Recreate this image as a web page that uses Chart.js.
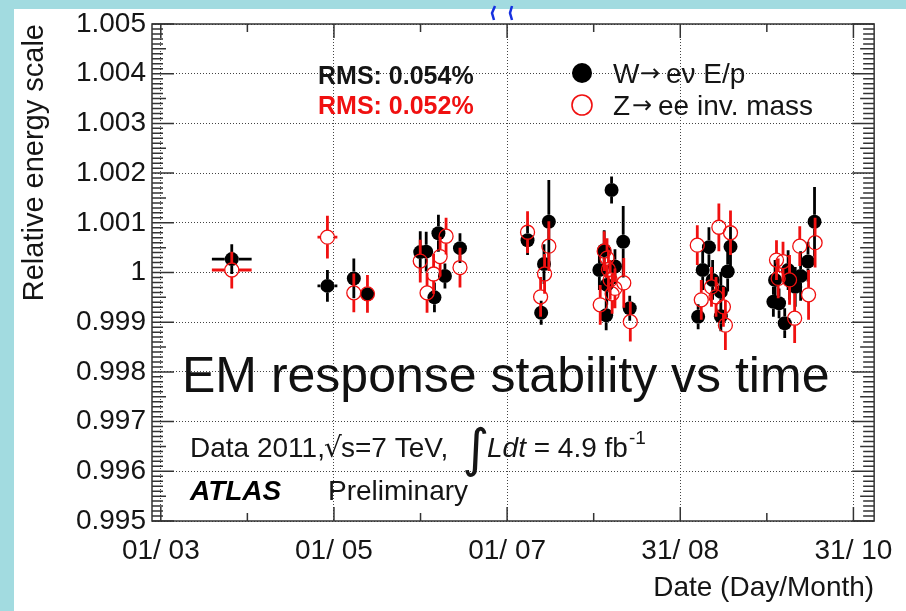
<!DOCTYPE html>
<html><head><meta charset="utf-8">
<script src="https://cdn.jsdelivr.net/npm/chart.js@4.4.1/dist/chart.umd.min.js"></script>
<style>html,body{margin:0;padding:0;background:#a2dbe0;overflow:hidden}canvas{display:block}</style>
</head><body>
<canvas id="c" width="906" height="611"></canvas>
<script>
// ---- axis ticks (day of year 2011) ----
const xTickDays   = [60, 121, 182, 243, 304];
const xTickLabels = ["01/ 03", "01/ 05", "01/ 07", "31/ 08", "31/ 10"];
const yTickValues = [0.995, 0.996, 0.997, 0.998, 0.999, 1.000, 1.001, 1.002, 1.003, 1.004, 1.005];
const yTickLabels = ["0.995", "0.996", "0.997", "0.998", "0.999", "1", "1.001", "1.002", "1.003", "1.004", "1.005"];

// ---- W -> e nu  E/p (black, filled) ----
const wDays   = [85.0, 118.7, 128.0, 132.8, 151.4, 153.5, 157.8, 160.1, 156.4, 165.4,
                 189.2, 196.7, 195.0, 194.0, 218.8, 222.9, 225.2, 216.2, 214.5, 220.0,
                 216.9, 217.1, 253.1, 260.7, 250.9, 259.7, 254.4, 257.3, 249.3, 257.3,
                 290.3, 288.0, 285.4, 283.5, 281.0, 276.4, 275.8, 277.8, 279.8, 281.5];
const wValues = [1.00027, 0.99973, 0.99988, 0.99956, 1.00041, 1.00042, 1.00079, 0.99993, 0.99950, 1.00049,
                 1.00065, 1.00102, 1.00017, 0.99919, 1.00166, 1.00062, 0.99928, 1.00045, 1.00005, 1.00012,
                 0.99914, 0.99975, 1.00051, 1.00052, 1.00005, 1.00002, 0.99985, 0.99961, 0.99911, 0.99912,
                 1.00102, 1.00022, 0.99993, 0.99971, 1.00005, 0.99985, 0.99941, 0.99938, 0.99898, 0.99985];
const wErrY   = [0.00030, 0.00032, 0.00040, 0.00012, 0.00042, 0.00040, 0.00037, 0.00025, 0.00030, 0.00030,
                 0.00030, 0.00084, 0.00040, 0.00024, 0.00027, 0.00072, 0.00025, 0.00040, 0.00040, 0.00035,
                 0.00030, 0.00040, 0.00040, 0.00040, 0.00040, 0.00040, 0.00040, 0.00040, 0.00025, 0.00030,
                 0.00070, 0.00040, 0.00050, 0.00040, 0.00040, 0.00040, 0.00030, 0.00030, 0.00030, 0.00040];
const wErrX   = [7, 3.5, 0, 0, 2.5, 0, 0, 0, 0, 0,
                 0, 0, 0, 0, 0, 0, 0, 0, 0, 0,
                 0, 0, 0, 0, 0, 0, 0, 0, 1.5, 0,
                 0, 0, 0, 0, 0, 1.5, 2, 0, 0, 0];

// ---- Z -> ee invariant mass (red, open) ----
const zDays   = [85.0, 118.7, 128.0, 132.8, 151.4, 160.5, 158.4, 156.1, 153.8, 165.4,
                 189.2, 196.7, 195.2, 193.8, 223.1, 225.4, 216.2, 217.7, 217.2, 218.3,
                 220.0, 214.8, 219.0, 249.0, 256.6, 260.7, 254.0, 255.6, 250.4, 258.9,
                 258.2, 290.5, 285.1, 288.2, 279.2, 276.9, 277.5, 283.3, 281.5];
const zValues = [1.00005, 1.00071, 0.99959, 0.99957, 1.00023, 1.00073, 1.00032, 0.99997, 0.99959, 1.00010,
                 1.00081, 1.00053, 0.99997, 0.99951, 0.99979, 0.99901, 1.00043, 1.00006, 1.00029, 0.99985,
                 0.99968, 0.99935, 0.99957, 1.00055, 1.00091, 1.00080, 0.99971, 0.99951, 0.99945, 0.99894,
                 0.99931, 1.00060, 1.00053, 0.99955, 1.00022, 1.00025, 0.99988, 0.99908, 0.99985];
const zErrY   = [0.00037, 0.00043, 0.00039, 0.00038, 0.00043, 0.00037, 0.00040, 0.00040, 0.00040, 0.00040,
                 0.00042, 0.00050, 0.00040, 0.00040, 0.00050, 0.00040, 0.00040, 0.00040, 0.00040, 0.00040,
                 0.00040, 0.00040, 0.00040, 0.00040, 0.00048, 0.00045, 0.00040, 0.00040, 0.00040, 0.00050,
                 0.00040, 0.00050, 0.00040, 0.00050, 0.00040, 0.00040, 0.00040, 0.00050, 0.00050];
const zErrX   = [7, 3.5, 0, 0, 2.5, 0, 0, 0, 0, 0,
                 0, 0, 0, 0, 0, 0, 0, 0, 0, 0,
                 0, 0, 0, 0, 0, 0, 0, 0, 0, 0,
                 0, 0, 0, 0, 0, 1.5, 0, 0, 0];

const FONT = "'Liberation Sans', Arial, Helvetica, sans-serif";
const RED = '#f01010';
const TXT = '#151515';

const errSets = [
  {y: wErrY, x: wErrX, color: '#000000'},
  {y: zErrY, x: zErrX, color: RED}
];

const bgPlugin = {
  id: 'bg',
  beforeDraw(chart) {
    const ctx = chart.ctx;
    ctx.save();
    ctx.fillStyle = '#a2dbe0';
    ctx.fillRect(0, 0, chart.width, chart.height);
    ctx.fillStyle = '#ffffff';
    ctx.fillRect(14, 9, chart.width - 14, chart.height - 9);
    ctx.strokeStyle = '#1530e0';
    ctx.lineWidth = 2.5;
    ctx.beginPath();
    ctx.moveTo(495, 6); ctx.lineTo(492, 13); ctx.lineTo(494, 20);
    ctx.moveTo(512, 6); ctx.lineTo(510, 13); ctx.lineTo(512, 20);
    ctx.stroke();
    ctx.restore();
  }
};

const errorBars = {
  id: 'errorBars',
  beforeDatasetDraw(chart, args) {
    const set = errSets[args.index];
    const ds = chart.data.datasets[args.index];
    const xs = chart.scales.x, ys = chart.scales.y, ctx = chart.ctx;
    const r = ds.pointRadius;
    ctx.save();
    ctx.strokeStyle = set.color;
    ctx.lineWidth = 2.8;
    ctx.beginPath();
    ds.data.forEach((p, i) => {
      const cx = xs.getPixelForValue(p.x), cy = ys.getPixelForValue(p.y);
      const top = ys.getPixelForValue(p.y + set.y[i]);
      const bot = ys.getPixelForValue(p.y - set.y[i]);
      if (cy - top > r) { ctx.moveTo(cx, cy - r); ctx.lineTo(cx, top); }
      if (bot - cy > r) { ctx.moveTo(cx, cy + r); ctx.lineTo(cx, bot); }
      if (set.x[i] > 0) {
        const l = xs.getPixelForValue(p.x - set.x[i]);
        const rr = xs.getPixelForValue(p.x + set.x[i]);
        if (cx - l > r) { ctx.moveTo(cx - r, cy); ctx.lineTo(l, cy); }
        if (rr - cx > r) { ctx.moveTo(cx + r, cy); ctx.lineTo(rr, cy); }
      }
    });
    ctx.stroke();
    ctx.restore();
  }
};

const framePlugin = {
  id: 'frame',
  afterDraw(chart) {
    const {ctx, chartArea: a} = chart;
    const xs = chart.scales.x, ys = chart.scales.y;
    ctx.save();
    ctx.strokeStyle = '#333333';
    ctx.lineWidth = 1.5;
    ctx.strokeRect(a.left, a.top, a.right - a.left, a.bottom - a.top);
    ctx.beginPath();
    for (let k = 0; k < yTickValues.length; k++) {
      const py = ys.getPixelForValue(yTickValues[k]);
      ctx.moveTo(a.left, py); ctx.lineTo(a.left + 22, py);
      ctx.moveTo(a.right, py); ctx.lineTo(a.right - 22, py);
      if (k < yTickValues.length - 1) {
        const step = (yTickValues[k + 1] - yTickValues[k]) / 10;
        for (let m = 1; m < 10; m++) {
          const pm = ys.getPixelForValue(yTickValues[k] + m * step);
          const len = m === 5 ? 14 : 11;
          ctx.moveTo(a.left, pm); ctx.lineTo(a.left + len, pm);
          ctx.moveTo(a.right, pm); ctx.lineTo(a.right - len, pm);
        }
      }
    }
    const half = (xTickDays[1] - xTickDays[0]) / 2;
    const xPositions = [];
    xTickDays.forEach(d => xPositions.push([d, 14]));
    xTickDays.forEach(d => { xPositions.push([d - half, 8]); xPositions.push([d + half, 8]); });
    xPositions.forEach(([d, len]) => {
      if (d < xs.min || d > xs.max) return;
      const px = xs.getPixelForValue(d);
      ctx.moveTo(px, a.bottom); ctx.lineTo(px, a.bottom - len);
      ctx.moveTo(px, a.top); ctx.lineTo(px, a.top + len);
    });
    ctx.stroke();
    ctx.restore();
  }
};

const textPlugin = {
  id: 'texts',
  afterDraw(chart) {
    const ctx = chart.ctx;
    ctx.save();
    ctx.textBaseline = 'alphabetic';
    ctx.textAlign = 'left';
    // RMS
    ctx.font = `bold 25px ${FONT}`;
    ctx.fillStyle = TXT;
    ctx.fillText('RMS: 0.054%', 318, 84);
    ctx.fillStyle = RED;
    ctx.fillText('RMS: 0.052%', 318, 114);
    // legend
    ctx.fillStyle = '#000';
    ctx.beginPath(); ctx.arc(582, 73, 10, 0, Math.PI * 2); ctx.fill();
    ctx.strokeStyle = RED; ctx.lineWidth = 1.6;
    ctx.beginPath(); ctx.arc(582, 105, 10, 0, Math.PI * 2); ctx.stroke();
    ctx.fillStyle = TXT;
    ctx.font = `28px ${FONT}`;
    ctx.fillText('W', 613, 83);
    ctx.fillText('Z', 613, 115);
    ctx.font = `24px 'DejaVu Sans', ${FONT}`;
    ctx.fillText('\u2192', 640, 81);
    ctx.fillText('\u2192', 632, 113);
    ctx.font = `28px ${FONT}`;
    ctx.fillText('e\u03bd E/p', 666, 83);
    ctx.fillText('ee inv. mass', 658, 115);
    // big title
    ctx.font = `50px ${FONT}`;
    ctx.fillStyle = '#111';
    ctx.fillText('EM response stability vs time', 182, 392);
    // data line
    const f = `28px ${FONT}`, fi = `italic 28px ${FONT}`;
    ctx.fillStyle = TXT;
    ctx.font = f;
    ctx.fillText('Data 2011,', 190, 457);
    ctx.font = `28px 'DejaVu Sans', ${FONT}`;
    ctx.fillText('\u221a', 324, 457);
    ctx.font = f;
    ctx.fillText('s=7 TeV,', 341, 457);
    ctx.font = `52px 'DejaVu Sans', ${FONT}`;
    ctx.fillText('\u222b', 462, 466);
    ctx.font = fi;
    ctx.fillText('Ldt', 487, 457);
    ctx.font = f;
    let x = 487 + ctx.measureText('Ldt').width;
    ctx.fillText(' = 4.9 fb', x, 457);
    x += ctx.measureText(' = 4.9 fb').width + 1;
    ctx.font = `19px ${FONT}`;
    ctx.fillText('-1', x, 444);
    ctx.font = `bold italic 28px ${FONT}`;
    ctx.fillStyle = '#000';
    ctx.fillText('ATLAS', 190, 500);
    ctx.font = `28px ${FONT}`;
    ctx.fillStyle = TXT;
    ctx.fillText('Preliminary', 328, 500);
    ctx.restore();
  }
};

const gridCommon = {color: '#444444', lineWidth: 1, drawTicks: false};

new Chart(document.getElementById('c'), {
  type: 'scatter',
  data: {
    datasets: [
      {label: 'W\u2192e\u03bd E/p', order: 2,
       data: wDays.map((d, i) => ({x: d, y: wValues[i]})),
       pointRadius: 7, pointHoverRadius: 7, backgroundColor: '#000', borderColor: '#000', borderWidth: 0},
      {label: 'Z\u2192ee inv. mass', order: 1,
       data: zDays.map((d, i) => ({x: d, y: zValues[i]})),
       pointRadius: 7, pointHoverRadius: 7, backgroundColor: 'rgba(0,0,0,0)', borderColor: RED, borderWidth: 1.3}
    ]
  },
  options: {
    responsive: false,
    animation: false,
    devicePixelRatio: 1,
    layout: {padding: {left: 14, top: 24, right: 23, bottom: 0}},
    plugins: {legend: {display: false}, tooltip: {enabled: false}},
    scales: {
      x: {
        type: 'linear', min: 56.9, max: 311.3,
        afterBuildTicks: s => { s.ticks = xTickDays.map(v => ({value: v})); },
        afterFit: s => { s.height = 90; },
        grid: gridCommon,
        border: {display: false, dash: [1, 2]},
        ticks: {
          font: {family: FONT, size: 28}, color: TXT, padding: 13, maxRotation: 0, autoSkip: false,
          callback: v => xTickLabels[xTickDays.indexOf(v)]
        },
        title: {display: true, text: 'Date (Day/Month)', align: 'end',
                font: {family: FONT, size: 28}, color: TXT, padding: {top: 0, bottom: 6}}
      },
      y: {
        type: 'linear', min: 0.995, max: 1.005,
        afterBuildTicks: s => { s.ticks = yTickValues.map(v => ({value: v})); },
        afterFit: s => { s.width = 138; },
        grid: gridCommon,
        border: {display: false, dash: [1, 2]},
        ticks: {
          font: {family: FONT, size: 28}, color: TXT, padding: 6, autoSkip: false,
          callback: (v, i) => yTickLabels[i]
        },
        title: {display: true, text: 'Relative energy scale', align: 'end',
                font: {family: FONT, size: 29}, color: TXT, padding: {top: 4, bottom: 0}}
      }
    }
  },
  plugins: [bgPlugin, errorBars, framePlugin, textPlugin]
});
</script>
</body></html>
